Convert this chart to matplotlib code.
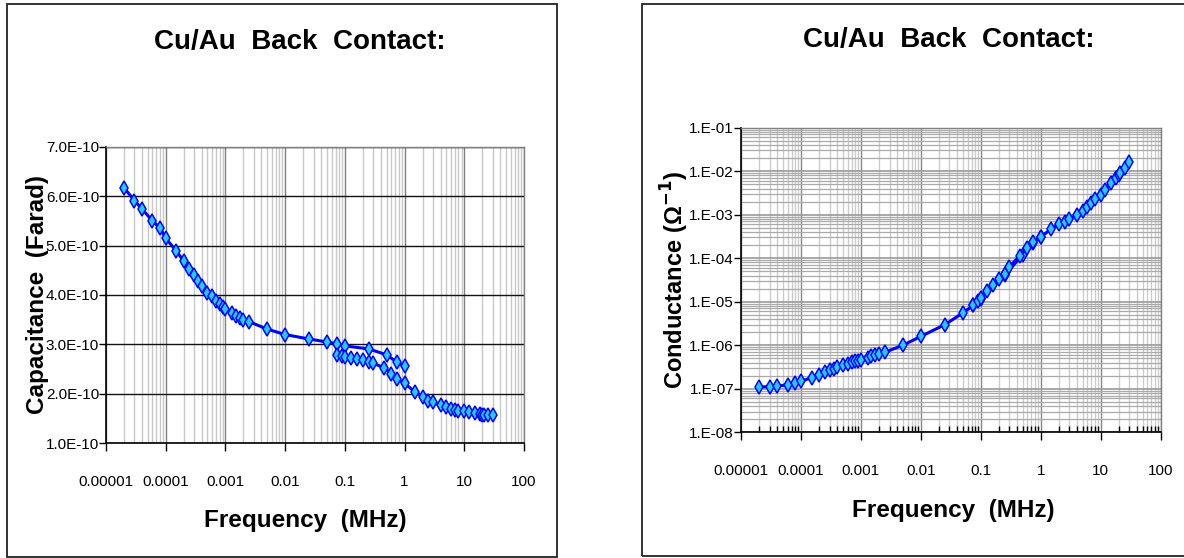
import matplotlib
matplotlib.use("Agg")
import matplotlib.pyplot as plt
import matplotlib.ticker as mticker
from matplotlib.patches import Rectangle

# frequency sweeps (MHz): first run and the repeated high-frequency run
freq_a = [2e-5, 3e-5, 4e-5, 6e-5, 8e-5, 1e-4, 1.5e-4, 2e-4, 2.5e-4, 3e-4, 3.5e-4, 4e-4,
          5e-4, 6e-4, 7e-4, 8e-4, 9e-4, 1e-3, 1.3e-3, 1.5e-3, 1.75e-3, 2e-3, 2.5e-3,
          5e-3, 1e-2, 2.5e-2, 5e-2, 7.5e-2, 0.1, 0.25, 0.5, 0.75, 1.0]
freq_b = [0.075, 0.09, 0.1, 0.125, 0.16, 0.2, 0.25, 0.3, 0.45, 0.6, 0.75, 1.0, 1.5, 2,
          2.5, 3, 4, 5, 6, 7, 8, 10, 12, 15, 18, 20, 21, 25, 30]

# capacitance in units of 1e-10 F
cap_a = [6.17, 5.91, 5.74, 5.50, 5.36, 5.15, 4.89, 4.69, 4.52, 4.40, 4.28, 4.18, 4.05,
         3.97, 3.88, 3.82, 3.76, 3.72, 3.63, 3.57, 3.54, 3.49, 3.46, 3.31, 3.20, 3.11,
         3.05, 3.01, 2.97, 2.91, 2.79, 2.64, 2.56]
cap_b = [2.79, 2.77, 2.75, 2.72, 2.70, 2.68, 2.65, 2.62, 2.53, 2.41, 2.30, 2.21, 2.04,
         1.94, 1.86, 1.83, 1.77, 1.73, 1.70, 1.68, 1.66, 1.65, 1.63, 1.61, 1.59, 1.58,
         1.58, 1.57, 1.57]

# conductance (1/ohm)
cond_a = [1.10e-7, 1.12e-7, 1.14e-7, 1.25e-7, 1.34e-7, 1.49e-7, 1.80e-7, 2.11e-7, 2.43e-7,
          2.65e-7, 2.90e-7, 3.17e-7, 3.52e-7, 3.78e-7, 4.06e-7, 4.28e-7, 4.43e-7, 4.67e-7,
          5.19e-7, 5.57e-7, 5.87e-7, 6.2e-7, 6.89e-7, 1.0e-6, 1.60e-6, 2.97e-6, 5.5e-6,
          8.3e-6, 1.15e-5, 4.1e-5, 1.2e-4, 2.3e-4, 3.07e-4]
cond_b = [8.5e-6, 1.05e-5, 1.2e-5, 1.8e-5, 2.38e-5, 3.33e-5, 4.4e-5, 6.4e-5, 1.14e-4,
          1.75e-4, 2.31e-4, 3.07e-4, 4.77e-4, 6.0e-4, 6.9e-4, 8.1e-4, 9.8e-4, 1.24e-3,
          1.53e-3, 1.85e-3, 2.29e-3, 2.83e-3, 3.69e-3, 5.25e-3, 7.08e-3, 8.2e-3, 9.2e-3,
          1.2e-2, 1.65e-2]

title = "Cu/Au  Back  Contact:"
x_ticks = [1e-5, 1e-4, 1e-3, 1e-2, 1e-1, 1, 10, 100]
x_labels = ["0.00001", "0.0001", "0.001", "0.01", "0.1", "1", "10", "100"]
cap_ticks = [1, 2, 3, 4, 5, 6, 7]
cap_labels = ["1.0E-10", "2.0E-10", "3.0E-10", "4.0E-10", "5.0E-10", "6.0E-10", "7.0E-10"]
cond_ticks = [1e-8, 1e-7, 1e-6, 1e-5, 1e-4, 1e-3, 1e-2, 1e-1]
cond_labels = ["1.E-08", "1.E-07", "1.E-06", "1.E-05", "1.E-04", "1.E-03", "1.E-02", "1.E-01"]

plt.rcParams["font.family"] = ["Liberation Sans", "DejaVu Sans"]

W, H = 1184, 558
fig = plt.figure(figsize=(W / 100, H / 100), dpi=100)


def px_axes(x0, y0, x1, y1):
    # axes placed by pixel box (top-left origin)
    return fig.add_axes([x0 / W, 1 - y1 / H, (x1 - x0) / W, (y1 - y0) / H])


def frame(x0, y0, x1, y1):
    fig.patches.append(Rectangle((x0 / W, 1 - y1 / H), (x1 - x0) / W, (y1 - y0) / H,
                                 transform=fig.transFigure, fill=False,
                                 edgecolor="#222222", linewidth=1.3))


def draw_series(ax, f, v):
    ax.plot(f, v, color="#0000FF", linewidth=2.2, marker="d", markersize=7.5,
            markerfacecolor="#22CCFF", markeredgecolor="#0000FF", markeredgewidth=1.1,
            zorder=5)


def style_axes(ax):
    ax.set_xscale("log")
    ax.set_xlim(1e-5, 100)
    ax.xaxis.set_major_locator(mticker.FixedLocator(x_ticks))
    ax.xaxis.set_major_formatter(mticker.FixedFormatter(x_labels))
    ax.xaxis.set_minor_locator(mticker.LogLocator(base=10, subs=range(2, 10), numticks=20))
    ax.xaxis.set_minor_formatter(mticker.NullFormatter())
    for s in ("left", "bottom"):
        ax.spines[s].set_color("black")
        ax.spines[s].set_linewidth(1.2)
    for s in ("top", "right"):
        ax.spines[s].set_color("#808080")
        ax.spines[s].set_linewidth(1.0)
    ax.set_axisbelow(True)
    for lab in ax.get_xticklabels() + ax.get_yticklabels():
        lab.set_fontsize(11)


frame(7, 4, 557, 557)
frame(642, 4, 1200, 556)

# capacitance vs frequency
ax1 = px_axes(106, 146.7, 524, 443.3)
draw_series(ax1, freq_a, cap_a)
draw_series(ax1, freq_b, cap_b)
ax1.set_ylim(1, 7)
ax1.yaxis.set_major_locator(mticker.FixedLocator(cap_ticks))
ax1.yaxis.set_major_formatter(mticker.FixedFormatter(cap_labels))
style_axes(ax1)
ax1.grid(True, which="major", axis="y", color="#111111", linewidth=1.0)
ax1.grid(True, which="major", axis="x", color="#808080", linewidth=1.0)
ax1.grid(True, which="minor", axis="x", color="#c8c8c8", linewidth=1.0)
ax1.tick_params(axis="x", which="major", direction="out", length=6, width=1, pad=17)
ax1.tick_params(axis="x", which="minor", length=0)
ax1.tick_params(axis="y", direction="out", length=5, width=1, pad=0)
ax1.set_xlabel("Frequency  (MHz)", fontsize=17.5, fontweight="bold", va="center")
ax1.xaxis.set_label_coords(0.476, -0.259)
ax1.set_ylabel("Capacitance  (Farad)", fontsize=17.5, fontweight="bold", va="center")
ax1.yaxis.set_label_coords(-0.165, 0.5)
fig.text(300 / W, 1 - 42 / H, title, fontsize=20, fontweight="bold", ha="center", va="center")

# conductance vs frequency
ax2 = px_axes(741, 127.7, 1160.7, 432.3)
draw_series(ax2, freq_a, cond_a)
draw_series(ax2, freq_b, cond_b)
ax2.set_yscale("log")
ax2.set_ylim(1e-8, 1e-1)
ax2.yaxis.set_major_locator(mticker.FixedLocator(cond_ticks))
ax2.yaxis.set_major_formatter(mticker.FixedFormatter(cond_labels))
ax2.yaxis.set_minor_locator(mticker.LogLocator(base=10, subs=range(2, 10), numticks=20))
ax2.yaxis.set_minor_formatter(mticker.NullFormatter())
style_axes(ax2)
ax2.grid(True, which="major", axis="x", color="#888888", linewidth=1.0)
ax2.grid(True, which="minor", axis="x", color="#cccccc", linewidth=1.0)
ax2.grid(True, which="major", axis="y", color="#999999", linewidth=1.2)
ax2.grid(True, which="minor", axis="y", color="#aaaaaa", linewidth=0.9)
ax2.tick_params(axis="x", which="major", direction="out", length=6, width=1, pad=17)
ax2.tick_params(axis="x", which="minor", direction="in", length=4, width=1)
ax2.tick_params(axis="y", which="major", direction="out", length=5, width=1, pad=0)
ax2.tick_params(axis="y", which="minor", length=0)
ax2.set_xlabel("Frequency  (MHz)", fontsize=17.5, fontweight="bold", va="center")
ax2.xaxis.set_label_coords(0.505, -0.258)
ax2.set_ylabel(r"Conductance (Ω$^{\mathbf{-1}}$)", fontsize=17, fontweight="bold", va="center")
ax2.yaxis.set_label_coords(-0.158, 0.5)
fig.text(949 / W, 1 - 39.6 / H, title, fontsize=20, fontweight="bold", ha="center", va="center")

fig.savefig("out.png", dpi=100, facecolor="white")
